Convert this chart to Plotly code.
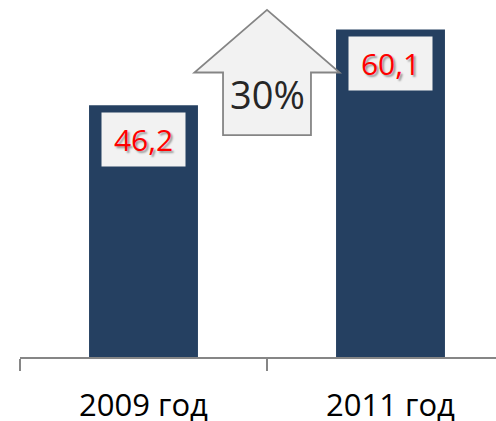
import plotly.graph_objects as go

categories = ["2009 год", "2011 год"]
values = [46.2, 60.1]
value_labels = ["46,2", "60,1"]

growth = round((values[1] / values[0] - 1) * 100)
growth_label = f"{growth}%"

BAR_COLOR = "#254061"
FONT = "Open Sans"
X_SPAN = 476 / 247  # visible category units


def px(x):
    """category-index coordinate -> paper x"""
    return (x + 0.5) / X_SPAN


fig = go.Figure()
fig.add_trace(go.Bar(
    x=categories, y=values, width=0.441,
    marker=dict(color=BAR_COLOR, line=dict(width=0)),
    hoverinfo="skip",
))

annotations = []
for i, (v, lab) in enumerate(zip(values, value_labels)):
    annotations.append(dict(
        x=i, y=v, xref="x", yref="y", yanchor="top", xanchor="center",
        yshift=-7, text=lab, showarrow=False,
        width=83, height=53, borderpad=0, bgcolor="#F2F2F2",
        align="center", valign="middle",
        font=dict(family=FONT, size=30, color="#FF0000",
                  shadow="2px 2px 2px #9a9a9a"),
    ))

# up arrow between bars
cx = 0.5
wing = 0.294
shaft = 0.178
y_tip, y_wing, y_bot = 63.7, 52.2, 40.7
pts = [(cx, y_tip), (cx + wing, y_wing), (cx + shaft, y_wing),
       (cx + shaft, y_bot), (cx - shaft, y_bot), (cx - shaft, y_wing),
       (cx - wing, y_wing)]
path = "M " + " L ".join(f"{px(x):.5f},{y}" for x, y in pts) + " Z"
shapes = [dict(type="path", path=path, xref="paper", yref="y",
               fillcolor="#F2F2F2", line=dict(color="#858585", width=1.8),
               layer="above")]
annotations.append(dict(
    x=cx, y=48.3, xref="x", yref="y", text=growth_label, showarrow=False,
    font=dict(family=FONT, size=38, color="#262626"),
))

fig.update_layout(
    width=496, height=421,
    margin=dict(l=20, r=0, t=0, b=64),
    paper_bgcolor="white", plot_bgcolor="white",
    showlegend=False,
    annotations=annotations,
    shapes=shapes,
    xaxis=dict(
        type="category",
        range=[-0.5, -0.5 + X_SPAN],
        tickson="boundaries", ticks="outside", ticklen=12,
        tickcolor="#868686", tickwidth=2,
        showline=True, linecolor="#868686", linewidth=2,
        showgrid=False, zeroline=False,
        ticklabelstandoff=20,
        automargin=False,
        tickfont=dict(family=FONT, size=31, color="#000000"),
        fixedrange=True,
    ),
    yaxis=dict(range=[0, 357 / 5.45], visible=False, showgrid=False,
               zeroline=False, fixedrange=True),
)

fig.write_html(
    "out.html",
    config={"displayModeBar": False},
    post_script="document.body.style.margin='0';document.body.style.overflow='hidden';",
)
